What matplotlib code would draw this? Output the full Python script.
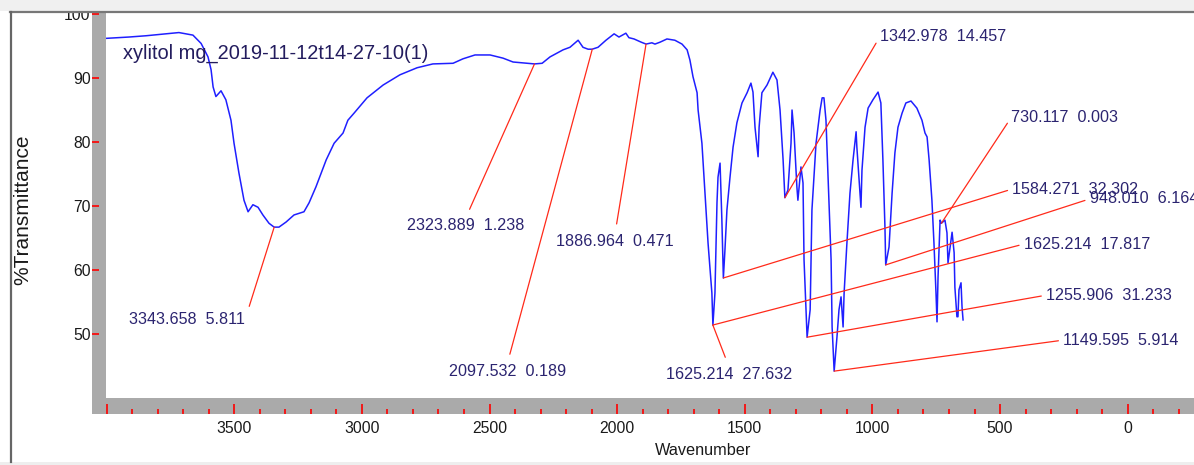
import numpy as np
import matplotlib.pyplot as plt
from matplotlib.patches import Rectangle
from matplotlib.lines import Line2D

plt.rcParams['font.family'] = ['Liberation Sans', 'DejaVu Sans']

# spectrum (wavenumber, %T)
wavenumber = [4000, 3913, 3846, 3768, 3717, 3662, 3630, 3603, 3591, 3583,
              3572, 3552, 3533, 3513, 3501, 3482, 3462, 3446, 3427, 3407,
              3388, 3364, 3344, 3325, 3297, 3266, 3227, 3207, 3180, 3140,
              3109, 3074, 3055, 3031, 2980, 2917, 2851, 2784, 2722, 2643,
              2604, 2557, 2498, 2447, 2408, 2353, 2324, 2294, 2263, 2212,
              2185, 2153, 2134, 2114, 2098, 2075, 2044, 2012, 1993, 1966,
              1954, 1934, 1906, 1887, 1864, 1852, 1832, 1805, 1774, 1746,
              1726, 1715, 1703, 1687, 1683, 1668, 1656, 1644, 1629, 1625,
              1617, 1609, 1605, 1597, 1590, 1584, 1578, 1570, 1558, 1546,
              1531, 1511, 1491, 1476, 1468, 1460, 1448, 1444, 1433, 1413,
              1390, 1374, 1362, 1350, 1343, 1331, 1319, 1315, 1307, 1296,
              1292, 1280, 1272, 1268, 1260, 1256, 1244, 1237, 1221, 1205,
              1197, 1190, 1182, 1174, 1162, 1158, 1150, 1139, 1131, 1123,
              1115, 1111, 1100, 1088, 1076, 1064, 1061, 1053, 1045, 1041,
              1029, 1017, 998, 978, 967, 959, 951, 948, 935, 923,
              912, 900, 884, 869, 849, 826, 806, 794, 786, 778,
              767, 759, 751, 747, 743, 735, 730, 716, 708, 704,
              692, 688, 680, 677, 669, 665, 661, 653, 649, 645]
transmittance = [96.2, 96.4, 96.6, 96.9, 97.1, 96.7, 95.4, 93.3, 91.3, 88.6,
                 87.1, 88.0, 86.6, 83.4, 79.8, 75.2, 70.9, 69.1, 70.2, 69.8,
                 68.6, 67.3, 66.7, 66.7, 67.5, 68.6, 69.1, 70.5, 73.0, 77.2,
                 79.8, 81.4, 83.4, 84.5, 86.9, 88.9, 90.5, 91.6, 92.2, 92.3,
                 93.0, 93.6, 93.6, 93.1, 92.5, 92.3, 92.2, 92.3, 93.3, 94.4,
                 94.8, 95.9, 94.8, 94.5, 94.5, 94.8, 95.9, 96.9, 96.4, 97.0,
                 96.3, 96.1, 95.6, 95.3, 95.5, 95.3, 95.6, 96.1, 95.9, 95.3,
                 94.4, 92.8, 90.2, 87.7, 85.0, 79.8, 72.0, 64.2, 56.4, 51.4,
                 56.4, 70.5, 74.5, 76.7, 68.0, 58.75, 63.0, 69.4, 74.5, 79.2,
                 83.0, 86.1, 87.7, 89.2, 87.8, 82.3, 77.7, 82.3, 87.7, 88.9,
                 90.9, 89.7, 85.0, 77.2, 71.3, 72.5, 79.8, 85.0, 81.4, 73.0,
                 70.9, 76.1, 73.6, 61.6, 53.3, 49.5, 53.8, 69.4, 79.8, 85.0,
                 86.9, 86.9, 83.4, 74.5, 61.6, 51.1, 44.2, 49.5, 53.8, 55.8,
                 51.1, 56.4, 64.2, 72.0, 77.2, 81.6, 79.2, 74.5, 69.8, 75.6,
                 82.3, 85.3, 86.6, 87.8, 86.1, 77.2, 66.7, 60.8, 63.6, 72.0,
                 78.3, 82.3, 84.5, 86.1, 86.4, 85.3, 83.4, 81.4, 80.8, 77.2,
                 70.9, 64.2, 56.4, 51.9, 58.9, 67.8, 67.3, 67.8, 65.8, 61.1,
                 64.7, 65.9, 62.7, 57.3, 52.7, 52.7, 56.9, 58.0, 54.2, 52.2]

peak_wn = [3343.658, 2323.889, 2097.532, 1886.964, 1625.214, 1342.978,
           730.117, 1584.271, 948.010, 1625.214, 1255.906, 1149.595]
peak_t = [66.7, 92.2, 94.5, 95.3, 51.4, 71.3,
          67.3, 58.75, 60.8, 51.4, 49.5, 44.2]
peak_text = ['3343.658  5.811', '2323.889  1.238', '2097.532  0.189',
             '1886.964  0.471', '1625.214  27.632', '1342.978  14.457',
             '730.117  0.003', '1584.271  32.302', '948.010  6.164',
             '1625.214  17.817', '1255.906  31.233', '1149.595  5.914']

x_ticks = [4000, 3500, 3000, 2500, 2000, 1500, 1000, 500, 0]
x_tick_labels = ['', '3500', '3000', '2500', '2000', '1500', '1000', '500', '0']
y_ticks = [50, 60, 70, 80, 90, 100]

# label placement: offset in pixels from the peak, alignment, arrow anchor, gap
label_layout = [(-29, -92, 'right', (1, 0.5), 3),
                (-69, -162, 'center', (0.5, 1), 5),
                (-85, -322, 'center', (0.5, 1), 5),
                (-31, -197, 'center', (0.5, 1), 5),
                (16, -49, 'center', (0.5, 1), 5),
                (95, 161, 'left', (0, 0.5), 1.5),
                (70, 106, 'left', (0, 0.5), 1.5),
                (289, 89, 'left', (0, 0.5), 1.5),
                (204, 66, 'left', (0, 0.5), 1.5),
                (311, 81, 'left', (0, 0.5), 1.5),
                (239, 42, 'left', (0, 0.5), 1.5),
                (229, 31, 'left', (0, 0.5), 1.5)]

W, H = 1194, 465


def fx(px):
    return px / W


def fy(py):
    return 1 - py / H


def wn(px):
    return (1127.7 - px) / 0.25526


def tr(py):
    return 100 - (py - 14) / 6.4


fig = plt.figure(figsize=(W / 100, H / 100), dpi=100)
fig.patch.set_facecolor('white')

ax = fig.add_axes([fx(106), fy(397.7), fx(1194) - fx(106), fy(13) - fy(397.7)])
ax.plot(wavenumber, transmittance, color='#1f1fff', lw=1.1, zorder=3)
ax.set_xlim(wn(106), wn(1194))
ax.set_ylim(tr(397.7), tr(13))
ax.axis('off')

label_color = '#2b2470'
for w, t, txt, (dx, dy, ha, rel, gap) in zip(peak_wn, peak_t, peak_text, label_layout):
    ax.annotate(txt, xy=(w, t), xytext=(dx, dy), textcoords='offset pixels',
                ha=ha, va='center', fontsize=11.6, color=label_color,
                annotation_clip=False, zorder=4,
                arrowprops=dict(arrowstyle='-', color='#ff2a1a', lw=0.9,
                                shrinkA=gap, shrinkB=0, relpos=rel))

# grey left bar with y ticks
axl = fig.add_axes([fx(92), fy(414), fx(106) - fx(92), fy(13) - fy(414)])
axl.set_facecolor('#aaaaaa')
axl.set_ylim(tr(414), tr(13))
axl.set_yticks(y_ticks)
axl.set_xticks([])
axl.tick_params(axis='y', direction='in', length=5, width=1.2, color='red',
                pad=1, labelsize=11.3, labelcolor='#1a1a1a')
for s in axl.spines.values():
    s.set_visible(False)

# grey bottom bar with x ticks
axb = fig.add_axes([fx(92), fy(414), fx(1194) - fx(92), fy(397.7) - fy(414)])
axb.set_facecolor('#aaaaaa')
axb.set_xlim(wn(92), wn(1194))
axb.set_xticks(x_ticks)
axb.set_xticklabels(x_tick_labels)
axb.set_xticks(np.arange(4000, -300, -100), minor=True)
axb.set_yticks([])
axb.tick_params(axis='x', which='major', direction='in', length=7.2, width=1.2,
                color='red', pad=5, labelsize=11.3, labelcolor='#1a1a1a')
axb.tick_params(axis='x', which='minor', direction='in', length=3.6, width=1.2,
                color='red')
for s in axb.spines.values():
    s.set_visible(False)

fig.text(fx(123), fy(59), 'xylitol mg_2019-11-12t14-27-10(1)', fontsize=14.4,
         color='#231c5e', ha='left', va='baseline')
fig.text(fx(23), fy(210), '%Transmittance', rotation=90, fontsize=15,
         ha='center', va='center', color='#1a1a1a')
fig.text(fx(703), fy(450), 'Wavenumber', fontsize=11.7,
         ha='center', va='center', color='#1a1a1a')

# window frame
fig.add_artist(Rectangle((0, fy(11)), 1, 1 - fy(11), transform=fig.transFigure,
                         facecolor='#f0f0f0', edgecolor='none', zorder=5))
fig.add_artist(Rectangle((0, 0), 1, fy(462), transform=fig.transFigure,
                         facecolor='#eeeeee', edgecolor='none', zorder=5))
fig.add_artist(Line2D([fx(10), 1], [fy(12), fy(12)], transform=fig.transFigure,
                      color='#777777', lw=1.6, zorder=6))
fig.add_artist(Line2D([fx(10.5), fx(10.5)], [fy(12), fy(462)],
                      transform=fig.transFigure, color='#666666', lw=1.6, zorder=6))

fig.savefig('out.png', dpi=100)
